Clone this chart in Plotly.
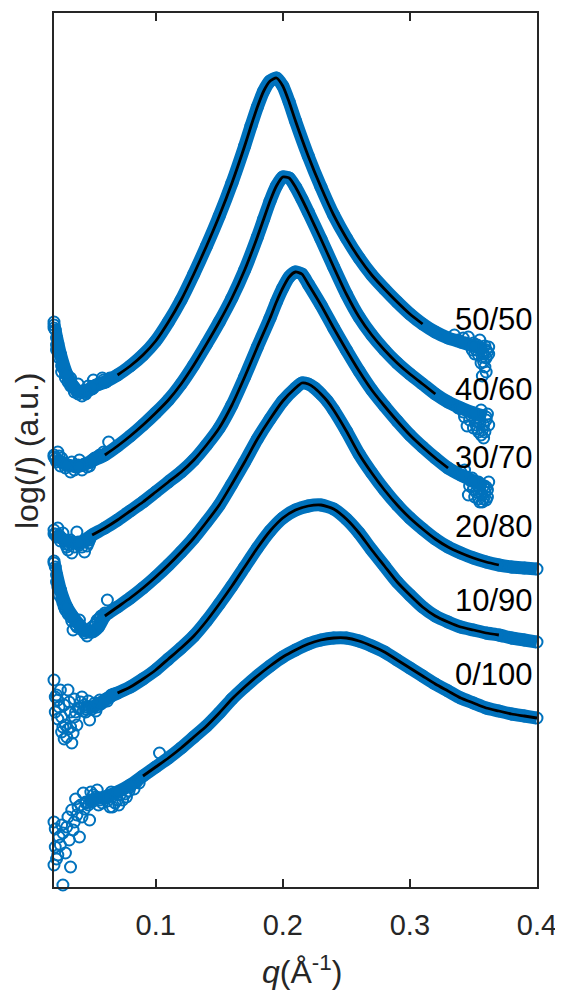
import plotly.graph_objects as go

# ---------------- data (q in 1/Å, log(I) in arbitrary units) ----------------
LABELS = ["50/50", "40/60", "30/70", "20/80", "10/90", "0/100"]

Q_A = [0.020, 0.025, 0.030, 0.035, 0.040, 0.045,
       0.05, 0.06, 0.07, 0.08, 0.09, 0.10, 0.11, 0.12, 0.13, 0.14, 0.15, 0.16, 0.17,
       0.175, 0.18, 0.185, 0.19, 0.195, 0.20, 0.205, 0.21,
       0.22, 0.23, 0.24, 0.25, 0.26, 0.27, 0.28, 0.29, 0.30, 0.31, 0.32, 0.33, 0.34, 0.35, 0.36]
I_A = [5.62, 5.33, 5.13, 5.01, 4.95, 4.95,
       5.00, 5.05, 5.12, 5.21, 5.32, 5.46, 5.65, 5.87, 6.13, 6.41, 6.71, 7.04, 7.41,
       7.61, 7.80, 7.96, 8.06, 8.09, 8.01, 7.85, 7.66,
       7.31, 7.00, 6.72, 6.49, 6.29, 6.12, 5.98, 5.85, 5.73, 5.63, 5.55, 5.49, 5.45, 5.41, 5.37]

Q_B = [0.020, 0.030, 0.040, 0.050,
       0.06, 0.07, 0.08, 0.09, 0.10, 0.11, 0.12, 0.13, 0.14, 0.15, 0.16, 0.17, 0.18,
       0.185, 0.19, 0.195, 0.20, 0.205, 0.21, 0.215,
       0.22, 0.23, 0.24, 0.25, 0.26, 0.27, 0.28, 0.29, 0.30, 0.31, 0.32, 0.33, 0.34, 0.35, 0.36]
I_B = [4.30, 4.22, 4.21, 4.26,
       4.32, 4.41, 4.51, 4.62, 4.74, 4.87, 5.03, 5.22, 5.43, 5.65, 5.89, 6.17, 6.50,
       6.68, 6.86, 7.01, 7.10, 7.09, 7.00, 6.88,
       6.75, 6.48, 6.20, 5.93, 5.70, 5.52, 5.37, 5.24, 5.13, 5.03, 4.93, 4.85, 4.79, 4.74, 4.70]

Q_C = [0.020, 0.030, 0.040,
       0.05, 0.06, 0.07, 0.08, 0.09, 0.10, 0.11, 0.12, 0.13, 0.14, 0.15, 0.16, 0.17, 0.18, 0.19,
       0.195, 0.20, 0.205, 0.21, 0.215,
       0.22, 0.23, 0.24, 0.25, 0.26, 0.27, 0.28, 0.29, 0.30, 0.31, 0.32, 0.33, 0.34, 0.35, 0.36]
I_C = [3.53, 3.46, 3.44,
       3.52, 3.59, 3.67, 3.76, 3.85, 3.95, 4.05, 4.15, 4.27, 4.42, 4.59, 4.82, 5.10, 5.40, 5.69,
       5.85, 5.99, 6.10, 6.15, 6.13,
       6.03, 5.82, 5.59, 5.37, 5.16, 4.97, 4.81, 4.66, 4.52, 4.40, 4.29, 4.19, 4.12, 4.06, 4.00]

Q_D = [0.020, 0.025, 0.030, 0.035, 0.040, 0.045, 0.050, 0.055,
       0.06, 0.07, 0.08, 0.09, 0.10, 0.11, 0.12, 0.13, 0.14, 0.15, 0.16, 0.17, 0.18, 0.19, 0.20,
       0.21, 0.215, 0.22, 0.225, 0.23, 0.235,
       0.24, 0.25, 0.26, 0.27, 0.28, 0.29, 0.30, 0.31, 0.32, 0.33, 0.34, 0.35, 0.36, 0.37,
       0.38, 0.39, 0.40]
I_D = [3.24, 2.97, 2.80, 2.70, 2.62, 2.56, 2.55, 2.60,
       2.71, 2.80, 2.89, 2.99, 3.10, 3.22, 3.35, 3.49, 3.65, 3.82, 4.03, 4.25, 4.48, 4.68, 4.86,
       4.99, 5.04, 5.03, 4.99, 4.93, 4.86,
       4.77, 4.56, 4.33, 4.14, 3.97, 3.82, 3.69, 3.58, 3.48, 3.40, 3.34, 3.29, 3.25, 3.22,
       3.20, 3.19, 3.18]

Q_E = [0.045, 0.050, 0.055, 0.060, 0.065,
       0.07, 0.08, 0.09, 0.10, 0.11, 0.12, 0.13, 0.14, 0.15, 0.16, 0.17, 0.18, 0.19, 0.20,
       0.21, 0.22, 0.23, 0.24, 0.25, 0.26, 0.27, 0.28, 0.29, 0.30, 0.31, 0.32, 0.33, 0.34,
       0.35, 0.36, 0.37, 0.38, 0.39, 0.40]
I_E = [1.78, 1.80, 1.83, 1.87, 1.91,
       1.94, 2.00, 2.08, 2.17, 2.28, 2.39, 2.51, 2.66, 2.83, 3.01, 3.20, 3.39, 3.56, 3.69,
       3.77, 3.81, 3.82, 3.78, 3.68, 3.54, 3.37, 3.21, 3.05, 2.92, 2.80, 2.71, 2.65, 2.60,
       2.57, 2.54, 2.52, 2.49, 2.47, 2.45]

Q_F = [0.045, 0.050, 0.055,
       0.06, 0.07, 0.08, 0.09, 0.10, 0.11, 0.12, 0.13, 0.14, 0.15, 0.16, 0.17, 0.18, 0.19,
       0.20, 0.21, 0.22, 0.23, 0.24, 0.25, 0.26, 0.27, 0.28, 0.29, 0.30, 0.31, 0.32, 0.33,
       0.34, 0.35, 0.36, 0.37, 0.38, 0.39, 0.40]
I_F = [0.84, 0.87, 0.89,
       0.90, 0.95, 1.02, 1.11, 1.20, 1.29, 1.39, 1.50, 1.61, 1.74, 1.88, 2.00, 2.11, 2.21,
       2.30, 2.37, 2.43, 2.47, 2.49, 2.49, 2.46, 2.41, 2.35, 2.27, 2.19, 2.11, 2.03, 1.96,
       1.89, 1.84, 1.79, 1.76, 1.73, 1.71, 1.69]

# noisy points at the low-q and high-q ends
QN_A = [0.020, 0.021, 0.022, 0.022, 0.023, 0.024, 0.026, 0.026, 0.029, 0.031, 0.033, 0.034,
        0.037, 0.039, 0.040, 0.044, 0.045, 0.047, 0.050, 0.051, 0.053, 0.056, 0.059,
        0.020, 0.022, 0.025, 0.027, 0.029, 0.033, 0.036, 0.039, 0.042, 0.045, 0.048, 0.051,
        0.055, 0.058, 0.061, 0.064,
        0.342, 0.347, 0.349, 0.352, 0.354, 0.355, 0.357, 0.357, 0.358, 0.359, 0.360, 0.361,
        0.335, 0.338, 0.344, 0.346, 0.350, 0.353, 0.356, 0.358, 0.360, 0.362, 0.362, 0.359,
        0.356, 0.351]
IN_A = [5.65, 5.57, 5.49, 5.37, 5.43, 5.29, 5.21, 5.15, 5.13, 5.05, 5.09, 5.01,
        4.97, 5.03, 4.95, 4.97, 4.93, 5.01, 4.98, 5.07, 5.02, 5.03, 5.07,
        5.59, 5.42, 5.32, 5.19, 5.09, 5.01, 4.95, 4.93, 4.91, 4.95, 4.97, 4.99,
        5.03, 5.09, 5.05, 5.09,
        5.49, 5.42, 5.37, 5.37, 5.32, 5.47, 5.30, 5.11, 5.25, 5.41, 5.15, 5.35,
        5.52, 5.47, 5.44, 5.50, 5.44, 5.42, 5.39, 5.33, 5.29, 5.40, 5.33, 5.20,
        5.24, 5.33]

QN_B = [0.020, 0.022, 0.023, 0.025, 0.026, 0.029, 0.033, 0.034, 0.037, 0.040, 0.042, 0.046,
        0.049, 0.052, 0.056, 0.059, 0.063,
        0.021, 0.024, 0.028, 0.031, 0.036, 0.039, 0.044, 0.048, 0.050, 0.054, 0.058, 0.061,
        0.342, 0.345, 0.347, 0.350, 0.352, 0.354, 0.356, 0.357, 0.358, 0.360, 0.361,
        0.338, 0.343, 0.348, 0.351, 0.353, 0.355, 0.358, 0.359, 0.362, 0.356, 0.353]
IN_B = [4.32, 4.25, 4.35, 4.21, 4.29, 4.19, 4.15, 4.25, 4.20, 4.27, 4.17, 4.20,
        4.25, 4.29, 4.32, 4.35, 4.45,
        4.28, 4.31, 4.24, 4.22, 4.17, 4.22, 4.23, 4.21, 4.27, 4.30, 4.31, 4.34,
        4.75, 4.61, 4.67, 4.59, 4.62, 4.55, 4.77, 4.57, 4.49, 4.67, 4.73,
        4.79, 4.70, 4.72, 4.66, 4.70, 4.64, 4.62, 4.55, 4.62, 4.52, 4.58]

QN_C = [0.020, 0.022, 0.023, 0.025, 0.027, 0.029, 0.031, 0.033, 0.034, 0.038, 0.040, 0.044,
        0.046, 0.048,
        0.021, 0.024, 0.026, 0.028, 0.030, 0.032, 0.036, 0.039, 0.042, 0.045, 0.047, 0.049,
        0.343, 0.346, 0.347, 0.349, 0.351, 0.352, 0.354, 0.355, 0.357, 0.357, 0.358, 0.360,
        0.361, 0.362,
        0.340, 0.345, 0.348, 0.350, 0.353, 0.355, 0.356, 0.359, 0.361, 0.358, 0.354]
IN_C = [3.57, 3.50, 3.59, 3.46, 3.54, 3.43, 3.37, 3.47, 3.34, 3.55, 3.42, 3.35,
        3.41, 3.47,
        3.53, 3.52, 3.49, 3.47, 3.40, 3.42, 3.40, 3.45, 3.40, 3.46, 3.44, 3.50,
        4.17, 3.92, 4.01, 4.09, 3.90, 3.95, 4.05, 3.85, 3.92, 3.85, 4.01, 3.87,
        3.97, 4.05,
        4.15, 4.10, 4.06, 3.98, 4.02, 3.98, 3.93, 3.95, 3.90, 3.88, 3.88]

QN_D = [0.020, 0.022, 0.022, 0.025, 0.027, 0.029, 0.033, 0.035, 0.037, 0.040, 0.043, 0.046,
        0.048, 0.052, 0.054, 0.056, 0.059, 0.062,
        0.021, 0.023, 0.024, 0.026, 0.028, 0.031, 0.034, 0.038, 0.041, 0.044, 0.047, 0.050,
        0.053, 0.057, 0.060]
IN_D = [3.26, 3.12, 3.05, 2.97, 2.84, 2.77, 2.70, 2.57, 2.62, 2.67, 2.57, 2.51,
        2.55, 2.62, 2.67, 2.69, 2.72, 2.87,
        3.20, 3.00, 2.92, 2.88, 2.80, 2.73, 2.66, 2.60, 2.58, 2.54, 2.56, 2.60,
        2.64, 2.71, 2.74]

QN_E = [0.020, 0.021, 0.023, 0.025, 0.027, 0.028, 0.030, 0.031, 0.034, 0.035, 0.037, 0.039,
        0.042, 0.044, 0.048, 0.054, 0.056, 0.059, 0.064, 0.067,
        0.022, 0.024, 0.026, 0.029, 0.032, 0.033, 0.036, 0.038, 0.040, 0.041, 0.043, 0.046,
        0.050, 0.052, 0.057, 0.061, 0.065, 0.062,
        0.021, 0.023, 0.026, 0.028, 0.031, 0.033, 0.036, 0.045, 0.047, 0.053]
IN_E = [2.07, 1.75, 1.87, 1.97, 1.60, 1.82, 1.50, 1.97, 1.44, 1.54, 1.75, 1.79,
        1.90, 1.82, 1.67, 1.80, 1.87, 1.85, 1.90, 1.93,
        1.92, 1.80, 1.70, 1.62, 1.85, 1.60, 1.70, 1.62, 1.78, 1.85, 1.76, 1.80,
        1.78, 1.84, 1.83, 1.88, 1.92, 1.86,
        1.90, 1.68, 1.55, 1.48, 1.58, 1.75, 1.88, 1.75, 1.86, 1.76]

QN_F = [0.020, 0.020, 0.021, 0.023, 0.025, 0.027, 0.027, 0.029, 0.033, 0.034, 0.035, 0.038,
        0.040, 0.043, 0.047, 0.048, 0.051, 0.054, 0.056, 0.060, 0.064, 0.066, 0.070, 0.074,
        0.077, 0.080, 0.085, 0.103,
        0.030, 0.032, 0.036, 0.039, 0.042, 0.045, 0.050, 0.053, 0.058, 0.062, 0.068, 0.072,
        0.076, 0.079, 0.083, 0.087, 0.024, 0.022,
        0.021, 0.026, 0.031, 0.037, 0.041, 0.044, 0.049, 0.055, 0.065, 0.071]
IN_F = [0.65, 0.22, 0.40, 0.32, 0.42, 0.02, 0.54, 0.34, 0.20, 0.77, 0.57, 0.72,
        0.50, 0.94, 0.82, 0.67, 0.92, 0.97, 0.87, 0.89, 0.80, 0.80, 0.87, 0.87,
        0.90, 1.00, 1.05, 1.34,
        0.60, 0.47, 0.65, 0.80, 0.70, 0.85, 0.85, 0.90, 0.84, 0.86, 0.84, 0.92,
        0.93, 0.96, 0.98, 1.04, 0.50, 0.28,
        0.58, 0.62, 0.70, 0.88, 0.82, 0.78, 0.95, 0.82, 0.95, 0.82]

# q-range covered by the fitted model curve of each sample
FIT_QMIN = [0.07, 0.06, 0.05, 0.06, 0.07, 0.09]
FIT_QMAX = [0.31, 0.32, 0.33, 0.37, 0.37, 0.40]

X_RANGE = [0.02, 0.40]
Y_RANGE = [0.0, 8.74]
X_TICKS = [0.1, 0.2, 0.3, 0.4]
X_TICK_TEXT = ["0.1", "0.2", "0.3", "0.4"]

# ---------------- styling / layout ----------------
BLUE = "#0072BD"
AX = "#262626"
FONT = "Liberation Sans, Arial, Helvetica, sans-serif"
OFF = 8                      # page body margin of the html page
PAGE_W, PAGE_H = 563, 992
PL, PR, PT, PB = 54, 537, 13, 887   # plot-area edges in page pixels
W, H = PAGE_W - OFF, PAGE_H - OFF
ML, MT = PL - OFF, PT - OFF
MR, MB = W - (PR - OFF), H - (PB - OFF)
LABEL_PIX_Y = [317.5, 387.5, 455.8, 524.2, 598.3, 672.5]  # label centres, page pixels

plot_w = PR - PL
plot_h = PB - PT

curves = [(Q_A, I_A, QN_A, IN_A), (Q_B, I_B, QN_B, IN_B), (Q_C, I_C, QN_C, IN_C),
          (Q_D, I_D, QN_D, IN_D), (Q_E, I_E, QN_E, IN_E), (Q_F, I_F, QN_F, IN_F)]

fig = go.Figure()
marker = dict(symbol="circle-open", size=11, color=BLUE, line=dict(width=2, color=BLUE))

for q, i, qn, inn in curves:
    fig.add_trace(go.Scatter(x=qn, y=inn, mode="markers", marker=marker,
                             cliponaxis=False, showlegend=False))
    fig.add_trace(go.Scatter(x=q, y=i, mode="lines+markers",
                             line=dict(color=BLUE, width=13, shape="spline", smoothing=0.6),
                             marker=marker, cliponaxis=False, showlegend=False))

for k, (q, i, _, _) in enumerate(curves):
    fq = [a for a in q if FIT_QMIN[k] - 1e-9 <= a <= FIT_QMAX[k] + 1e-9]
    fi = [b for a, b in zip(q, i) if FIT_QMIN[k] - 1e-9 <= a <= FIT_QMAX[k] + 1e-9]
    fig.add_trace(go.Scatter(x=fq, y=fi, mode="lines",
                             line=dict(color="black", width=2.8, shape="spline", smoothing=0.6),
                             cliponaxis=False, showlegend=False))

annotations = []
for lab, py in zip(LABELS, LABEL_PIX_Y):
    annotations.append(dict(text=lab, xref="paper", yref="paper", x=1.0,
                            y=(PB - py) / plot_h, xanchor="right", yanchor="middle",
                            xshift=-2, yshift=-2, showarrow=False,
                            font=dict(family=FONT, size=31, color="black")))
annotations.append(dict(text="<i>q</i>(Å<sup>-1</sup>)", xref="paper", yref="paper",
                        x=(302 - PL) / plot_w, y=-(970 - PB) / plot_h,
                        xanchor="center", yanchor="middle", showarrow=False,
                        font=dict(family=FONT, size=32, color=AX)))
annotations.append(dict(text="log(<i>I</i>) (a.u.)", xref="paper", yref="paper",
                        x=(27 - PL) / plot_w, y=(PB - 451) / plot_h, textangle=-90,
                        xanchor="center", yanchor="middle", showarrow=False,
                        font=dict(family=FONT, size=32, color=AX)))

fig.update_layout(
    width=W, height=H, margin=dict(l=ML, r=MR, t=MT, b=MB, autoexpand=False),
    paper_bgcolor="white", plot_bgcolor="white",
    font=dict(family=FONT, color=AX),
    annotations=annotations,
    xaxis=dict(range=X_RANGE, tickvals=X_TICKS, ticktext=X_TICK_TEXT,
               ticks="inside", ticklen=8, tickwidth=1.5, tickcolor=AX,
               showline=True, linecolor=AX, linewidth=1.8, mirror="ticks",
               showgrid=False, zeroline=False, ticklabelstandoff=11,
               tickfont=dict(family=FONT, size=29, color=AX)),
    yaxis=dict(range=Y_RANGE, showticklabels=False, ticks="",
               showline=True, linecolor=AX, linewidth=1.8, mirror=True,
               showgrid=False, zeroline=False),
)

fig.write_html("out.html")
